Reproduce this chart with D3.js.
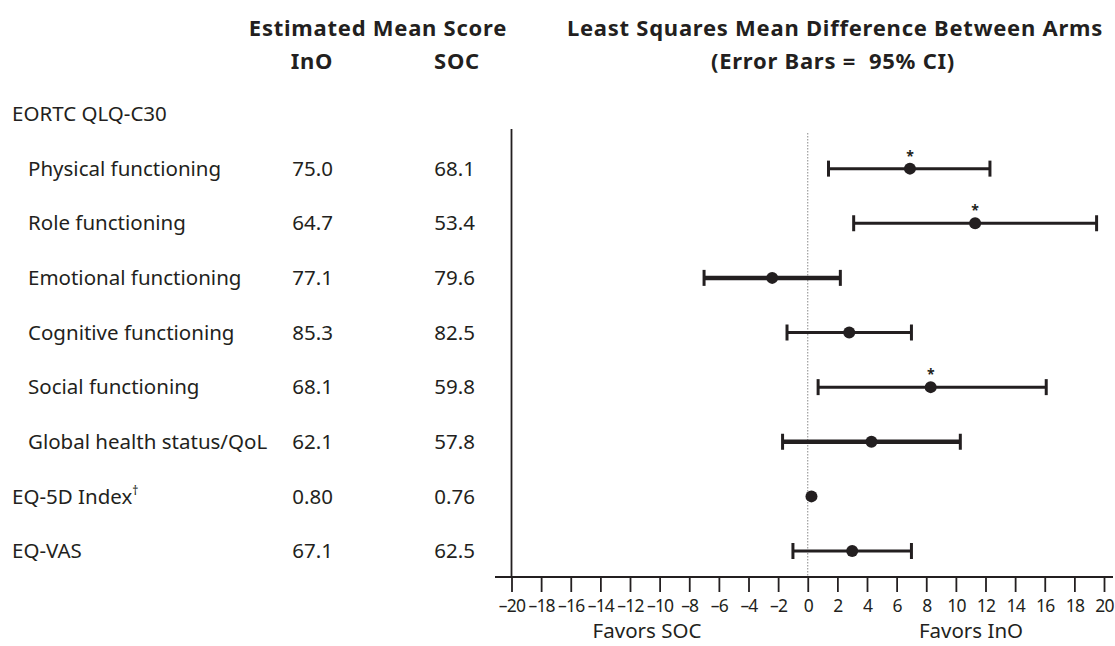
<!DOCTYPE html>
<html>
<head>
<meta charset="utf-8">
<script src="https://cdn.jsdelivr.net/npm/d3@7"></script>
<style>
  html, body { margin: 0; padding: 0; background: #fff; }
  svg text { font-family: "Noto Sans", "Open Sans", sans-serif; fill: #231f20; }
</style>
</head>
<body>
<svg id="chart" width="1115" height="646"></svg>
<script>
// ---- data ----
const rowLabels = ["EORTC QLQ-C30", "Physical functioning", "Role functioning", "Emotional functioning",
  "Cognitive functioning", "Social functioning", "Global health status/QoL", "EQ-5D Index", "EQ-VAS"];
const rowIndent = [0, 1, 1, 1, 1, 1, 1, 0, 0];
const rowSuperscript = ["", "", "", "", "", "", "", "†", ""];
const inoScores = [null, "75.0", "64.7", "77.1", "85.3", "68.1", "62.1", "0.80", "67.1"];
const socScores = [null, "68.1", "53.4", "79.6", "82.5", "59.8", "57.8", "0.76", "62.5"];
const lsDiff = [null, 6.9, 11.3, -2.4, 2.8, 8.3, 4.3, 0.25, 3.0];
const ciLow = [null, 1.4, 3.1, -7.0, -1.4, 0.7, -1.7, null, -1.0];
const ciHigh = [null, 12.3, 19.5, 2.2, 7.0, 16.1, 10.3, null, 7.0];
const significant = [false, true, true, false, false, true, false, false, false];
const thickBar = [false, false, false, true, false, false, true, false, false];
const xTicks = d3.range(-20, 21, 2);

// ---- layout ----
const svg = d3.select("#chart");
const x = d3.scaleLinear().domain([-20, 20]).range([511.5, 1104]);
const y = d3.scalePoint().domain(d3.range(rowLabels.length)).range([114, 551]);
const axisY = 577;
const ink = "#231f20";
const fs = 20.5;

// headers
function header(xp, yp, txt) {
  svg.append("text").attr("x", xp).attr("y", yp).attr("text-anchor", "middle")
    .attr("font-size", 22).attr("font-weight", "bold").attr("letter-spacing", "0.75px")
    .attr("xml:space", "preserve").text(txt);
}
header(378, 36, "Estimated Mean Score");
header(312, 69, "InO");
header(457, 69, "SOC");
header(835, 36, "Least Squares Mean Difference Between Arms");
header(833, 69, "(Error Bars =  95% CI)");

// row labels
const rows = d3.range(rowLabels.length);
const lab = svg.append("g").selectAll("text").data(rows).join("text")
  .attr("x", i => rowIndent[i] ? 28 : 12)
  .attr("y", i => y(i)).attr("dy", "0.35em")
  .attr("font-size", fs);
lab.append("tspan").text(i => rowLabels[i]);
lab.filter(i => rowSuperscript[i]).append("tspan")
  .attr("font-size", 12).attr("dy", "-0.7em").text(i => rowSuperscript[i]);

// score columns
const idx = rows.filter(i => inoScores[i] !== null);
svg.append("g").selectAll("text").data(idx).join("text")
  .attr("x", 333).attr("y", i => y(i)).attr("dy", "0.35em")
  .attr("text-anchor", "end").attr("font-size", fs).text(i => inoScores[i]);
svg.append("g").selectAll("text").data(idx).join("text")
  .attr("x", 475).attr("y", i => y(i)).attr("dy", "0.35em")
  .attr("text-anchor", "end").attr("font-size", fs).text(i => socScores[i]);

// zero reference line
svg.append("line").attr("x1", x(0)).attr("x2", x(0)).attr("y1", 133).attr("y2", axisY)
  .attr("stroke", "#888").attr("stroke-width", 1).attr("stroke-dasharray", "1.5,1.5");

// vertical axis line at -20
svg.append("line").attr("x1", x(-20)).attr("x2", x(-20)).attr("y1", 129).attr("y2", axisY)
  .attr("stroke", ink).attr("stroke-width", 1.8);

// x axis
const xAxis = d3.axisBottom(x).tickValues(xTicks).tickSize(15).tickPadding(8)
  .tickFormat(d => d < 0 ? "\u2013" + Math.abs(d) : String(d));
const gx = svg.append("g").attr("transform", `translate(0,${axisY})`).call(xAxis);
gx.select(".domain").remove();
gx.selectAll(".tick line").attr("stroke", ink).attr("stroke-width", 1.8);
gx.selectAll(".tick text").attr("font-size", 17.5).attr("fill", ink)
  .attr("font-family", "'Noto Sans', sans-serif").attr("letter-spacing", "-0.8px");
svg.append("line").attr("x1", 495).attr("x2", 1113).attr("y1", axisY).attr("y2", axisY)
  .attr("stroke", ink).attr("stroke-width", 1.8);

svg.append("text").attr("x", 647).attr("y", 638).attr("text-anchor", "middle")
  .attr("font-size", fs).text("Favors SOC");
svg.append("text").attr("x", 971).attr("y", 638).attr("text-anchor", "middle")
  .attr("font-size", fs).text("Favors InO");

// error bars
const ciRows = idx.filter(i => ciLow[i] !== null);
const bars = svg.append("g");
bars.selectAll("line.bar").data(ciRows).join("line").attr("class", "bar")
  .attr("x1", i => x(ciLow[i])).attr("x2", i => x(ciHigh[i]))
  .attr("y1", i => y(i)).attr("y2", i => y(i))
  .attr("stroke", ink).attr("stroke-width", i => thickBar[i] ? 4.5 : 3);
bars.selectAll("line.capL").data(ciRows).join("line").attr("class", "capL")
  .attr("x1", i => x(ciLow[i])).attr("x2", i => x(ciLow[i]))
  .attr("y1", i => y(i) - 8).attr("y2", i => y(i) + 8)
  .attr("stroke", ink).attr("stroke-width", 3);
bars.selectAll("line.capR").data(ciRows).join("line").attr("class", "capR")
  .attr("x1", i => x(ciHigh[i])).attr("x2", i => x(ciHigh[i]))
  .attr("y1", i => y(i) - 8).attr("y2", i => y(i) + 8)
  .attr("stroke", ink).attr("stroke-width", 3);

// points
svg.append("g").selectAll("circle").data(idx).join("circle")
  .attr("cx", i => x(lsDiff[i])).attr("cy", i => y(i)).attr("r", 6)
  .attr("fill", ink);

// significance asterisks
svg.append("g").selectAll("text").data(idx.filter(i => significant[i])).join("text")
  .attr("x", i => x(lsDiff[i])).attr("y", i => y(i) - 8)
  .attr("text-anchor", "middle").attr("font-size", 14).attr("font-weight", "bold").text("*");
</script>
</body>
</html>
